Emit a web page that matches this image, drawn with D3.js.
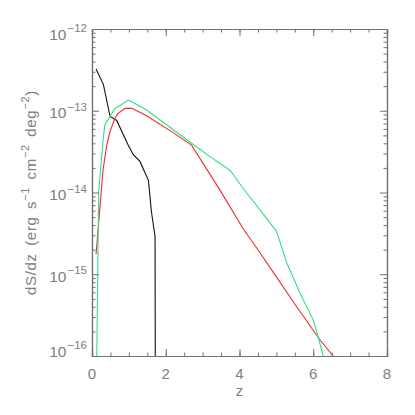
<!DOCTYPE html>
<html><head><meta charset="utf-8">
<script src="https://cdn.jsdelivr.net/npm/d3@7"></script>
<style>body{margin:0;background:#fff}svg{display:block}</style>
</head><body>
<script>
// ---- data ----
const xTicks = [0, 2, 4, 6, 8];
const yTickExps = [-12, -13, -14, -15, -16];

const blackZ = [0.11, 0.31, 0.49, 0.67, 0.98, 1.12, 1.30, 1.53, 1.61, 1.71, 1.72];
const blackS = [3.24e-13, 2.09e-13, 8.5e-14, 7.6e-14, 3.8e-14, 2.9e-14, 2.4e-14, 1.41e-14, 5.9e-15, 2.9e-15, 1e-17];

const redZ = [0.11, 0.30, 0.40, 0.49, 0.62, 0.71, 0.90, 1.08, 1.48, 2.20, 2.70, 3.47, 4.10, 4.56, 5.00, 5.55, 6.18, 6.54];
const redS = [1.76e-15, 1.9e-14, 3.8e-14, 5.6e-14, 8.1e-14, 9.3e-14, 1.07e-13, 1.07e-13, 8.7e-14, 5.4e-14, 3.8e-14, 1.07e-14, 3.6e-15, 1.82e-15, 9.3e-16, 4.0e-16, 1.58e-16, 1.0e-16];

const greenZ = [0.13, 0.155, 0.18, 0.30, 0.35, 0.49, 0.62, 0.71, 0.98, 1.08, 1.48, 2.70, 3.20, 3.75, 4.10, 4.65, 5.01, 5.28, 5.64, 6.00, 6.14, 6.27];
const greenS = [1.0e-16, 1.0e-15, 1.0e-14, 4.4e-14, 6.8e-14, 8.5e-14, 1.07e-13, 1.12e-13, 1.35e-13, 1.29e-13, 1.02e-13, 4.0e-14, 2.75e-14, 1.86e-14, 1.12e-14, 5.4e-15, 3.3e-15, 1.38e-15, 5.9e-16, 2.75e-16, 1.66e-16, 1.0e-16];

(function () {
const W = 415, H = 415;
const L = 92, R = 387, T = 29, B = 356;
const axisCol = "#707070", textCol = "#808080";
const font = "'Liberation Sans', Arial, sans-serif";

const svg = d3.select("body").append("svg").attr("width", W).attr("height", H);
const x = d3.scaleLinear().domain([0, 8]).range([L, R]);
const y = d3.scaleLog().domain([1e-16, 1e-12]).range([B, T]);

svg.append("clipPath").attr("id", "clip").append("rect")
  .attr("x", L).attr("y", T).attr("width", R - L).attr("height", B - T);

const line = d3.line().x(d => x(d[0])).y(d => y(d[1]));
const series = [
  {z: blackZ, s: blackS, c: "#111111"},
  {z: redZ, s: redS, c: "#f22a2a"},
  {z: greenZ, s: greenS, c: "#2ee08a"}
];
const gL = svg.append("g").attr("clip-path", "url(#clip)");
series.forEach(sr => {
  gL.append("path").datum(sr.z.map((z, i) => [z, sr.s[i]]))
    .attr("d", line).attr("fill", "none").attr("stroke", sr.c).attr("stroke-width", 1.1);
});

const xMinor = d3.range(0, 8.01, 0.5);
svg.append("g").attr("transform", `translate(0,${B})`)
  .call(d3.axisBottom(x).tickValues(xMinor).tickSize(-3.5).tickFormat(""));
svg.append("g").attr("transform", `translate(0,${B})`)
  .call(d3.axisBottom(x).tickValues(xTicks).tickSize(-7).tickFormat(""));
svg.append("g").attr("transform", `translate(0,${T})`)
  .call(d3.axisTop(x).tickValues(xMinor).tickSize(-3.5).tickFormat(""));
svg.append("g").attr("transform", `translate(0,${T})`)
  .call(d3.axisTop(x).tickValues(xTicks).tickSize(-7).tickFormat(""));

const yMinor = [];
for (let e = -16; e < -12; e++) for (let m = 2; m <= 9; m++) yMinor.push(m * Math.pow(10, e));
const yMaj = yTickExps.map(e => Math.pow(10, e));
svg.append("g").attr("transform", `translate(${L},0)`)
  .call(d3.axisLeft(y).tickValues(yMinor).tickSize(-3.5).tickFormat(""));
svg.append("g").attr("transform", `translate(${L},0)`)
  .call(d3.axisLeft(y).tickValues(yMaj).tickSize(-7).tickFormat(""));
svg.append("g").attr("transform", `translate(${R},0)`)
  .call(d3.axisRight(y).tickValues(yMinor).tickSize(-3.5).tickFormat(""));
svg.append("g").attr("transform", `translate(${R},0)`)
  .call(d3.axisRight(y).tickValues(yMaj).tickSize(-7).tickFormat(""));

svg.selectAll(".domain").attr("stroke", axisCol).attr("stroke-width", 1.2);
svg.selectAll(".tick line").attr("stroke", axisCol).attr("stroke-width", 1);

xTicks.forEach(v => {
  svg.append("text").attr("x", x(v)).attr("y", 378.5).attr("text-anchor", "middle")
    .attr("font-family", font).attr("font-size", 15).attr("fill", textCol).text(v);
});
const yOff = {"-12": 5, "-13": 2, "-14": 2, "-15": 2, "-16": -5};
yTickExps.forEach(e => {
  const cy = y(Math.pow(10, e)) + yOff[e];
  const t = svg.append("text").attr("x", 87).attr("y", cy + 5.5).attr("text-anchor", "end")
    .attr("font-family", font).attr("font-size", 15.5).attr("fill", textCol);
  t.append("tspan").text("10");
  t.append("tspan").attr("dx", 1).attr("dy", -7.5).attr("font-size", 11.5).text("\u2212" + Math.abs(e));
});

svg.append("text").attr("x", (L + R) / 2).attr("y", 396).attr("text-anchor", "middle")
  .attr("font-family", font).attr("font-size", 15).attr("fill", textCol).text("z");

const yl = svg.append("text").attr("transform", `translate(36,${(T + B) / 2}) rotate(-90)`)
  .attr("text-anchor", "middle").attr("font-family", font).attr("font-size", 15)
  .attr("letter-spacing", 0.7).attr("word-spacing", 2.5).attr("fill", textCol);
const parts = [["dS/dz (erg s", 0], ["\u22121", 1], [" cm", 0], ["\u22122", 1], [" deg", 0], ["\u22122", 1], [")", 0]];
parts.forEach((p, i) => {
  const ts = yl.append("tspan").text(p[0]);
  if (p[1]) ts.attr("dy", -7).attr("font-size", 11);
  else if (i > 0 && parts[i - 1][1]) ts.attr("dy", 7);
});
})();
</script>
</body></html>
